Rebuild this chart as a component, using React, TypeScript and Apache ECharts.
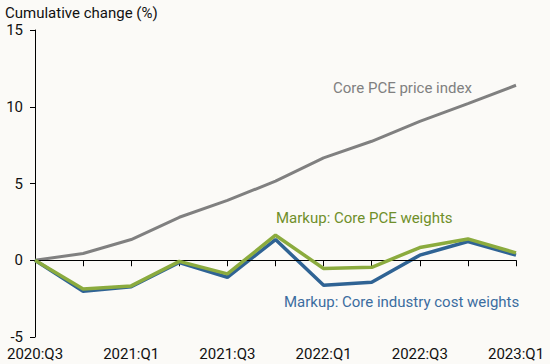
import React, { useEffect, useRef } from "react";
import * as echarts from "echarts";

const quarters = ["2020:Q3","2020:Q4","2021:Q1","2021:Q2","2021:Q3","2021:Q4","2022:Q1","2022:Q2","2022:Q3","2022:Q4","2023:Q1"];
const corePce = [0, 0.44, 1.35, 2.8, 3.9, 5.15, 6.67, 7.75, 9.05, 10.2, 11.4];
const markupPceWeights = [0, -1.87, -1.67, -0.07, -0.89, 1.63, -0.54, -0.46, 0.83, 1.39, 0.48];
const markupCostWeights = [0, -2.02, -1.72, -0.15, -1.11, 1.35, -1.63, -1.43, 0.33, 1.22, 0.33];
const yTicks = [-5, 0, 5, 10, 15];

const FONT = "Roboto";

export default function App() {
  const ref = useRef<HTMLDivElement>(null);
  useEffect(() => {
    if (!ref.current) return;
    const chart = echarts.init(ref.current, null, { renderer: "svg" });
    chart.setOption({
      animation: false,
      backgroundColor: "#fbfaf7",
      textStyle: { fontFamily: FONT },
      grid: { left: 35, right: 34, top: 30, bottom: 27, containLabel: false },
      xAxis: {
        type: "category",
        data: quarters,
        boundaryGap: false,
        axisLine: { lineStyle: { color: "#000", width: 1 } },
        axisTick: { show: true, interval: 0, length: 6, lineStyle: { color: "#000" } },
        axisLabel: { interval: 1, margin: 9, color: "#111", fontSize: 15, fontFamily: FONT },
        splitLine: { show: false },
      },
      yAxis: {
        type: "value",
        min: yTicks[0],
        max: yTicks[yTicks.length - 1],
        interval: 5,
        axisLine: { show: true, lineStyle: { color: "#000", width: 1 } },
        axisTick: { show: true, length: 5, lineStyle: { color: "#000" } },
        axisLabel: { margin: 12, color: "#111", fontSize: 15, fontFamily: FONT },
        splitLine: { show: false },
      },
      series: [
        {
          name: "Core PCE price index",
          type: "line",
          data: corePce,
          symbol: "none",
          lineStyle: { color: "#808080", width: 3 },
          markLine: {
            silent: true,
            symbol: "none",
            label: { show: false },
            lineStyle: { color: "#000", width: 1, type: "solid" },
            data: [{ yAxis: 0 }],
          },
          z: 3,
        },
        {
          name: "Markup: Core industry cost weights",
          type: "line",
          data: markupCostWeights,
          symbol: "none",
          lineStyle: { color: "#2f6394", width: 3.5 },
          z: 4,
        },
        {
          name: "Markup: Core PCE weights",
          type: "line",
          data: markupPceWeights,
          symbol: "none",
          lineStyle: { color: "#8bab3e", width: 3.5 },
          z: 5,
        },
      ],
      graphic: [
        {
          type: "text",
          left: 5,
          top: 5,
          style: { text: "Cumulative change (%)", fill: "#111", fontSize: 15, fontFamily: FONT },
        },
        {
          type: "text",
          left: 333,
          top: 80,
          style: { text: "Core PCE price index", fill: "#808080", fontSize: 15, fontFamily: FONT },
        },
        {
          type: "text",
          left: 276,
          top: 210,
          style: { text: "Markup: Core PCE weights", fill: "#6f8f2a", fontSize: 15, fontFamily: FONT },
        },
        {
          type: "text",
          left: 284,
          top: 294,
          style: { text: "Markup: Core industry cost weights", fill: "#3b6da0", fontSize: 15, fontFamily: FONT },
        },
      ],
    });
    return () => chart.dispose();
  }, []);
  return <div ref={ref} style={{ width: 550, height: 364, position: "fixed", left: 0, top: 0 }} />;
}
